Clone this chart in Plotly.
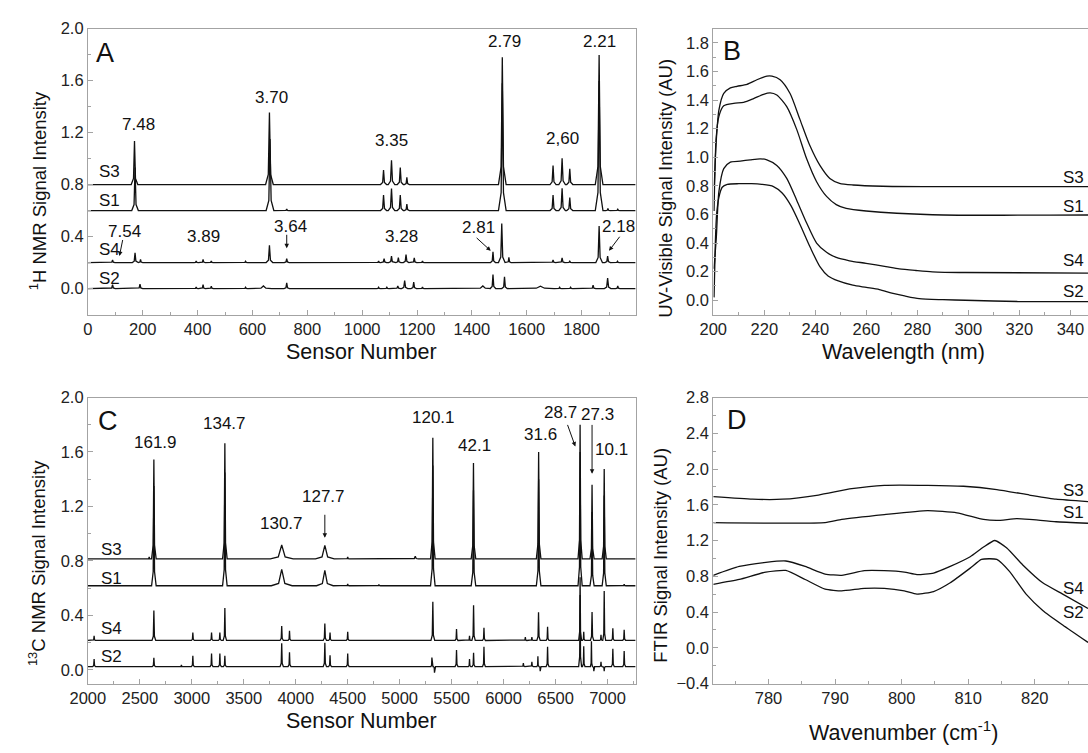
import plotly.graph_objects as go

FONT = "Liberation Sans, Arial, Helvetica, sans-serif"
INK = "#111111"
AXIS = "#a3a3a3"

# ---------------- Panel A : 1H NMR (sensor number, intensity) ----------------
A_base = {"S3": 0.80, "S1": 0.60, "S4": 0.20, "S2": 0.0}
A_S3_pos = [170, 662, 1078, 1107, 1139, 1163, 1511, 1696, 1729, 1757, 1864]
A_S3_top = [1.135, 1.355, 0.912, 0.987, 0.93, 0.855, 1.78, 0.947, 1.002, 0.922, 1.797]
A_S3_wid = [12, 14, 11, 12, 11, 9, 14, 11, 12, 11, 14]

A_S1_pos = [172, 664, 725, 1078, 1107, 1139, 1163, 1511, 1696, 1729, 1757, 1864, 1896, 1932]
A_S1_top = [0.93, 1.15, 0.612, 0.72, 0.77, 0.72, 0.65, 1.58, 0.72, 0.772, 0.70, 1.597, 0.615, 0.61]
A_S1_wid = [12, 14, 8, 11, 12, 11, 9, 14, 11, 12, 11, 14, 8, 8]

A_S4_pos = [90, 172, 192, 395, 420, 450, 575, 662, 725, 1060, 1080, 1107, 1132, 1160, 1190, 1220,
            1477, 1509, 1535, 1696, 1729, 1757, 1864, 1895, 1931]
A_S4_top = [0.22, 0.275, 0.225, 0.2125, 0.225, 0.2125, 0.21, 0.333, 0.23, 0.2125, 0.23, 0.25, 0.238,
            0.262, 0.235, 0.2125, 0.283, 0.50, 0.24, 0.22, 0.235, 0.21, 0.48, 0.25, 0.21]
A_S4_wid = [9, 10, 8, 8, 8, 8, 8, 12, 9, 8, 9, 10, 9, 10, 9, 8, 9, 12, 8, 9, 10, 9, 12, 10, 8]

A_S2_pos = [90, 190, 395, 420, 450, 575, 640, 725, 1060, 1090, 1130, 1155, 1188, 1220, 1440, 1477,
            1519, 1650, 1720, 1760, 1842, 1895, 1932]
A_S2_top = [0.03, 0.033, 0.012, 0.03, 0.018, 0.01, 0.02, 0.043, 0.01, 0.01, 0.02, 0.062, 0.05, 0.012,
            0.02, 0.108, 0.09, 0.018, 0.01, 0.01, 0.025, 0.08, 0.02]
A_S2_wid = [10, 10, 8, 8, 8, 8, 30, 10, 8, 8, 10, 11, 10, 8, 30, 10, 10, 50, 8, 8, 10, 12, 8]

# ---------------- Panel B : UV-Visible (wavelength nm, intensity) ----------------
B_S3_wl = [200.4, 201.2, 202.2, 204.1, 206.7, 209.3, 213.2, 217.1, 221.0, 223.0, 226.2, 230.1, 234.0,
           237.9, 241.8, 245.7, 249.5, 254.7, 266.4, 285.9, 311.8, 346.9]
B_S3_val = [0.806, 1.126, 1.33, 1.446, 1.485, 1.496, 1.51, 1.542, 1.567, 1.567, 1.542, 1.446, 1.263,
            1.08, 0.943, 0.852, 0.818, 0.806, 0.797, 0.795, 0.795, 0.795]
B_S1_wl = [200.3, 201.1, 202.2, 204.1, 208.0, 211.9, 215.8, 219.7, 222.3, 224.9, 228.8, 232.7, 236.6,
           240.5, 244.4, 248.2, 252.1, 259.9, 285.9, 346.9]
B_S1_val = [0.624, 1.126, 1.286, 1.36, 1.377, 1.384, 1.41, 1.44, 1.45, 1.435, 1.354, 1.195, 0.989,
            0.829, 0.726, 0.669, 0.642, 0.624, 0.598, 0.596]
B_S4_wl = [200.3, 201.2, 202.2, 204.1, 206.7, 210.6, 214.5, 218.4, 221.0, 224.9, 228.8, 232.7, 236.6,
           240.5, 244.4, 248.2, 253.4, 259.9, 267.7, 272.9, 279.4, 285.9, 298.8, 346.9]
B_S4_val = [0.22, 0.441, 0.76, 0.92, 0.966, 0.973, 0.982, 0.989, 0.982, 0.943, 0.852, 0.70, 0.54,
            0.40, 0.335, 0.299, 0.276, 0.258, 0.235, 0.219, 0.208, 0.199, 0.194, 0.19]
B_S2_wl = [200.3, 200.8, 201.3, 202.2, 203.5, 205.5, 210.0, 215.0, 219.0, 223.6, 227.0, 230.5, 234.0,
           238.0, 241.8, 245.0, 249.0, 254.7, 260.0, 265.1, 270.0, 275.0, 280.7, 290.0, 298.8, 319.6, 346.9]
B_S2_val = [0.02, 0.40, 0.60, 0.72, 0.79, 0.81, 0.815, 0.815, 0.81, 0.795, 0.75, 0.66, 0.53,
            0.37, 0.235, 0.17, 0.135, 0.105, 0.09, 0.075, 0.05, 0.03, 0.011, 0.004, 0.0, -0.009, -0.01]

# ---------------- Panel C : 13C NMR (sensor number, intensity) ----------------
C_base = {"S3": 0.815, "S1": 0.618, "S4": 0.216, "S2": 0.024}
C_S3_pos = [2590, 2635, 3318, 3865, 4280, 4500, 5150, 5319, 5710, 6337, 6736, 6851, 6968]
C_S3_top = [0.83, 1.545, 1.665, 0.917, 0.915, 0.83, 0.835, 1.705, 1.52, 1.60, 1.80, 1.36, 1.475]
C_S3_wid = [15, 22, 22, 110, 90, 18, 30, 22, 22, 22, 20, 20, 20]

C_S1_pos = [2635, 3318, 3865, 4280, 4500, 4800, 5319, 5710, 6337, 6736, 6851, 6968, 7160]
C_S1_top = [1.35, 1.45, 0.738, 0.73, 0.632, 0.628, 1.50, 1.32, 1.40, 1.60, 1.16, 1.28, 0.63]
C_S1_wid = [22, 22, 100, 80, 15, 15, 22, 22, 22, 20, 20, 20, 15]

C_S4_pos = [2060, 2635, 3010, 3190, 3270, 3318, 3865, 3940, 4280, 4330, 4500, 5319, 5547, 5672, 5711,
            5811, 6209, 6272, 6336, 6423, 6736, 6771, 6851, 6937, 6968, 7051, 7160]
C_S4_top = [0.25, 0.436, 0.275, 0.275, 0.275, 0.455, 0.323, 0.287, 0.34, 0.275, 0.28, 0.50, 0.30, 0.25,
            0.475, 0.31, 0.24, 0.24, 0.424, 0.317, 0.68, 0.28, 0.425, 0.258, 0.58, 0.305, 0.294]
C_S4_wid = [14, 18, 14, 14, 14, 16, 16, 14, 16, 14, 14, 18, 14, 12, 16, 14, 14, 14, 16, 14, 14, 12, 16,
            12, 14, 14, 14]

C_S2_pos = [2060, 2635, 2900, 3010, 3190, 3270, 3318, 3865, 3940, 4280, 4330, 4500, 5310, 5335, 5547,
            5672, 5711, 5811, 6190, 6272, 6330, 6352, 6423, 6736, 6771, 6845, 6868, 6937, 6968, 7051, 7160]
C_S2_top = [0.079, 0.089, 0.036, 0.103, 0.12, 0.12, 0.103, 0.196, 0.13, 0.199, 0.108, 0.12, 0.09, -0.02,
            0.146, 0.08, 0.125, 0.17, 0.05, 0.06, 0.10, -0.01, 0.17, 0.55, 0.174, 0.21, -0.01, 0.06,
            -0.01, 0.155, 0.138]
C_S2_wid = [14, 16, 14, 14, 14, 14, 14, 16, 14, 16, 14, 14, 10, 10, 14, 12, 14, 14, 14, 14, 10, 8, 14,
            14, 12, 10, 8, 12, 12, 14, 14]

# ---------------- Panel D : FTIR (wavenumber cm-1, intensity) ----------------
D_S3_wn = [771.7, 777.6, 782.1, 787.5, 792.5, 797.4, 803.9, 809.3, 814.3, 819.2, 823.2, 828.0]
D_S3_val = [1.69, 1.662, 1.662, 1.709, 1.78, 1.818, 1.818, 1.807, 1.77, 1.709, 1.662, 1.636]
D_S1_wn = [771.7, 788.5, 791.0, 797.4, 803.9, 808.3, 812.3, 814.3, 817.3, 819.2, 823.2, 828.0]
D_S1_val = [1.40, 1.40, 1.436, 1.49, 1.535, 1.51, 1.436, 1.425, 1.444, 1.436, 1.41, 1.393]
D_S4_wn = [771.7, 775.6, 779.6, 782.6, 785.5, 788.5, 791.0, 794.4, 797.4, 800.4, 802.3, 804.8, 807.3,
           810.3, 812.3, 814.0, 815.8, 818.2, 821.2, 824.2, 828.0]
D_S4_val = [0.811, 0.91, 0.956, 0.971, 0.91, 0.825, 0.811, 0.862, 0.862, 0.847, 0.818, 0.836, 0.91,
            1.018, 1.127, 1.20, 1.116, 0.927, 0.727, 0.60, 0.44]
D_S2_wn = [771.7, 775.6, 779.6, 782.6, 785.5, 788.5, 791.0, 794.4, 797.4, 800.4, 802.3, 804.8, 807.3,
           810.3, 812.0, 814.3, 816.2, 818.7, 821.2, 824.2, 828.0]
D_S2_val = [0.71, 0.764, 0.847, 0.865, 0.764, 0.655, 0.636, 0.665, 0.665, 0.636, 0.60, 0.629, 0.727,
            0.891, 0.989, 0.989, 0.855, 0.60, 0.418, 0.255, 0.06]


def peak_line(x_start, x_end, base, pos, top, wid):
    """Polyline through the read baseline and the read peak apexes."""
    xs, ys = [x_start], [base]
    for p, h, w in sorted(zip(pos, top, wid)):
        mid = base + 0.14 * (h - base)
        xs += [p - w, p - 0.3 * w, p, p + 0.3 * w, p + w]
        ys += [base, mid, h, mid, base]
    xs.append(x_end)
    ys.append(base)
    return xs, ys


fig = go.Figure()
line = dict(color=INK, width=1.3)

for name, pos, top, wid in [("S3", A_S3_pos, A_S3_top, A_S3_wid), ("S1", A_S1_pos, A_S1_top, A_S1_wid),
                            ("S4", A_S4_pos, A_S4_top, A_S4_wid), ("S2", A_S2_pos, A_S2_top, A_S2_wid)]:
    xs, ys = peak_line(0, 1997, A_base[name], pos, top, wid)
    fig.add_trace(go.Scatter(x=xs, y=ys, mode="lines", line=line, xaxis="x", yaxis="y", name=name))

for name, xs, ys in [("S3", B_S3_wl, B_S3_val), ("S1", B_S1_wl, B_S1_val),
                     ("S4", B_S4_wl, B_S4_val), ("S2", B_S2_wl, B_S2_val)]:
    fig.add_trace(go.Scatter(x=xs, y=ys, mode="lines", line=dict(color=INK, width=1.3, shape="spline",
                                                                  smoothing=0.7),
                             xaxis="x2", yaxis="y2", name=name))

for name, pos, top, wid in [("S3", C_S3_pos, C_S3_top, C_S3_wid), ("S1", C_S1_pos, C_S1_top, C_S1_wid),
                            ("S4", C_S4_pos, C_S4_top, C_S4_wid), ("S2", C_S2_pos, C_S2_top, C_S2_wid)]:
    xs, ys = peak_line(2000, 7270, C_base[name], pos, top, wid)
    fig.add_trace(go.Scatter(x=xs, y=ys, mode="lines", line=line, xaxis="x3", yaxis="y3", name=name))

for name, xs, ys in [("S3", D_S3_wn, D_S3_val), ("S1", D_S1_wn, D_S1_val),
                     ("S4", D_S4_wn, D_S4_val), ("S2", D_S2_wn, D_S2_val)]:
    fig.add_trace(go.Scatter(x=xs, y=ys, mode="lines", line=dict(color=INK, width=1.3, shape="spline",
                                                                  smoothing=0.5),
                             xaxis="x4", yaxis="y4", name=name))


def ax(domain, rng, dtick, minor, fmt, anchor, mirror=True, tick0=0):
    return dict(domain=domain, range=rng, dtick=dtick, tick0=tick0, tickformat=fmt, anchor=anchor,
                showline=True, linecolor=AXIS, linewidth=1, mirror=mirror, ticks="inside", ticklen=5,
                tickwidth=1, tickcolor=AXIS, showgrid=False, zeroline=False,
                tickfont=dict(family=FONT, size=16.5, color="#222222"),
                minor=dict(dtick=minor, tick0=tick0, ticks="inside", ticklen=3, tickcolor=AXIS,
                           tickwidth=1, showgrid=False))


XL, XR = [0.0653, 0.5772], [0.6498, 1.0]
YT, YB = [0.5843, 0.9734], [0.0823, 0.4714]

fig.update_layout(
    width=1088, height=753, margin=dict(l=0, r=0, t=0, b=0),
    paper_bgcolor="white", plot_bgcolor="white", showlegend=False,
    font=dict(family=FONT, color=INK),
    xaxis=ax(XL, [0, 1997], 200, 100, "d", "y"),
    yaxis=ax(YT, [-0.2, 2.0], 0.4, 0.2, ".1f", "x"),
    xaxis2=ax(XR, [200, 346.9], 20, 10, "d", "y2", tick0=200),
    yaxis2=ax(YT, [-0.1, 1.9], 0.2, 0.1, ".1f", "x2", mirror=False),
    xaxis3=ax(XL, [2000, 7270], 500, 250, "d", "y3"),
    yaxis3=ax(YB, [-0.1, 2.0], 0.4, 0.2, ".1f", "x3"),
    xaxis4=ax(XR, [771.7, 828.0], 10, 5, "d", "y4", tick0=770),
    yaxis4=ax(YB, [-0.4, 2.8], 0.4, 0.2, ".1f", "x4", mirror=False),
)

ann = []


def txt(x, y, text, xr, yr, size=17, xanchor="center", yanchor="middle"):
    ann.append(dict(x=x, y=y, xref=xr, yref=yr, text=text, showarrow=False, xanchor=xanchor,
                    yanchor=yanchor, font=dict(family=FONT, size=size, color=INK)))


def arrow(x_tip, y_tip, x_tail, y_tail, xr, yr):
    ann.append(dict(x=x_tip, y=y_tip, ax=x_tail, ay=y_tail, xref=xr, yref=yr, axref=xr, ayref=yr,
                    text="", showarrow=True, arrowhead=2, arrowsize=0.9, arrowwidth=1, arrowcolor=INK))


# Panel A labels
for t, x, y in [("7.48", 183, 1.2625), ("3.70", 670, 1.47), ("3.35", 1107, 1.1375), ("2.79", 1520, 1.90),
                ("2,60", 1731, 1.153), ("2.21", 1867, 1.897), ("7.54", 135, 0.4425), ("3.89", 423, 0.40),
                ("3.64", 740, 0.48), ("3.28", 1144, 0.40), ("2.81", 1424, 0.47), ("2.18", 1934, 0.48)]:
    txt(x, y, t, "x", "y")
for t, y in [("S3", 0.90), ("S1", 0.675), ("S4", 0.30), ("S2", 0.075)]:
    txt(33, y, t, "x", "y", xanchor="left")
txt(64, 1.81, "A", "x", "y", size=27)
arrow(115, 0.25, 128, 0.385, "x", "y")
arrow(725, 0.31, 725, 0.425, "x", "y")
arrow(1469, 0.29, 1412, 0.40, "x", "y")
arrow(1900, 0.29, 1943, 0.41, "x", "y")

# Panel B labels
for t, y in [("S3", 0.859), ("S1", 0.653), ("S4", 0.281), ("S2", 0.064)]:
    txt(346.2, y, t, "x2", "y2", xanchor="right")
txt(207.4, 1.743, "B", "x2", "y2", size=27)

# Panel C labels
for t, x, y in [("161.9", 2655, 1.672), ("134.7", 3318, 1.81), ("130.7", 3865, 1.078),
                ("127.7", 4270, 1.27), ("120.1", 5327, 1.85), ("42.1", 5716, 1.65),
                ("31.6", 6358, 1.725), ("28.7", 6550, 1.89), ("27.3", 6905, 1.875), ("10.1", 7038, 1.62)]:
    txt(x, y, t, "x3", "y3")
for t, y in [("S3", 0.886), ("S1", 0.67), ("S4", 0.304), ("S2", 0.096)]:
    txt(2108, y, t, "x3", "y3", xanchor="left")
txt(2193, 1.83, "C", "x3", "y3", size=27)
arrow(4280, 0.97, 4280, 1.15, "x3", "y3")
arrow(6690, 1.64, 6610, 1.81, "x3", "y3")
arrow(6851, 1.44, 6851, 1.81, "x3", "y3")

# Panel D labels
for t, y in [("S3", 1.764), ("S1", 1.51), ("S4", 0.665), ("S2", 0.40)]:
    txt(827.7, y, t, "x4", "y4", xanchor="right")
txt(775.2, 2.545, "D", "x4", "y4", size=27)

# Axis titles
H, W = 753.0, 1088.0


def ptitle(xpx, ypx, text, size, angle=0):
    ann.append(dict(x=xpx / W, y=1 - ypx / H, xref="paper", yref="paper", text=text, showarrow=False,
                    textangle=angle, xanchor="center", yanchor="middle",
                    font=dict(family=FONT, size=size, color=INK)))


ptitle(349.5, 351, "Sensor Number", 21.5)
ptitle(900, 351, "Wavelength (nm)", 21.5)
ptitle(349.5, 729, "Sensor Number", 21.5)
ptitle(900, 740, "Wavenumber (cm<sup>-1</sup>)", 21.5)
ptitle(20, 186, "<sup>1</sup>H NMR Signal Intensity", 18.5, -90)
ptitle(659, 184, "UV-Visible Signal Intensity (AU)", 18.5, -90)
ptitle(20, 568, "<sup>13</sup>C NMR Signal Intensity", 18.5, -90)
ptitle(653, 560, "FTIR Signal Intensity (AU)", 18.5, -90)

fig.update_layout(annotations=ann)
fig.write_html("out.html", config={"displayModeBar": False},
               post_script="document.body.style.margin='0px';document.body.style.overflow='hidden';")
